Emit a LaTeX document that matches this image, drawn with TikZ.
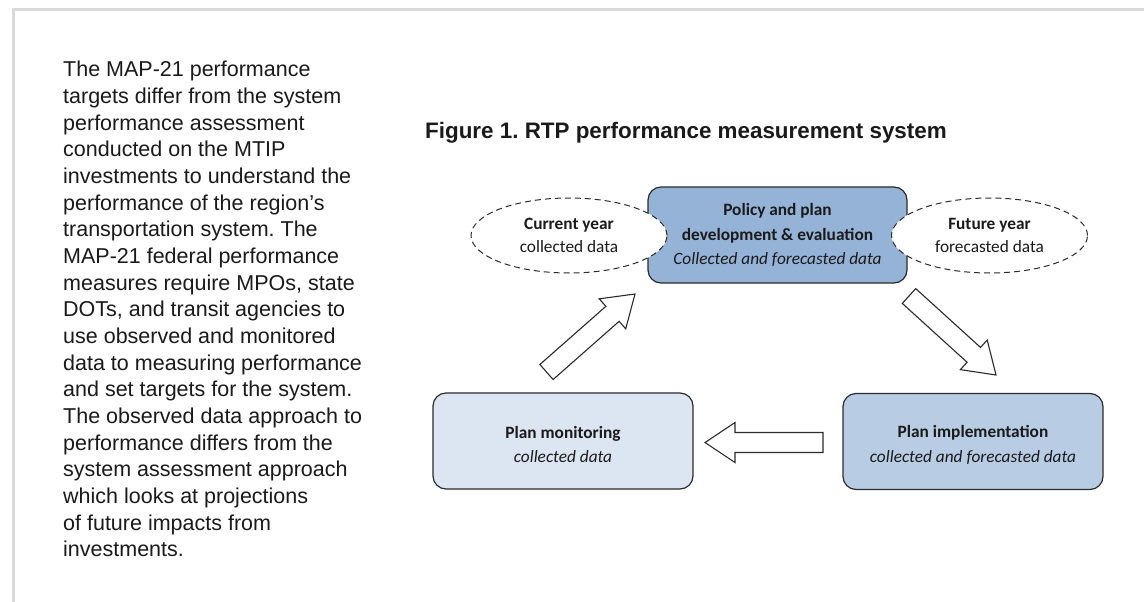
\documentclass[tikz,border=0pt]{standalone}
\usepackage{fontspec}
\setmainfont{Liberation Sans}
\newfontfamily\calib{Carlito}
\usetikzlibrary{shapes.geometric,calc}
\frenchspacing
\definecolor{framegray}{HTML}{DADADA}
\definecolor{boxtop}{HTML}{95B3D7}
\definecolor{boxmid}{HTML}{B8CCE4}
\definecolor{boxlight}{HTML}{DCE6F2}
\definecolor{ink}{HTML}{1A1A1A}
\definecolor{edge}{HTML}{2B2B2B}
\tikzset{
  stagebox/.style={draw=edge, line width=1.2pt, rounded corners=13pt, minimum width=260pt, minimum height=96pt, inner sep=0pt, align=center, text=ink, font=\calib\fontsize{17.3}{24.5}\selectfont},
  yearoval/.style={ellipse, draw=edge, dash pattern=on 6pt off 4pt, line width=1pt, fill=white, minimum width=196pt, minimum height=75pt, inner sep=0pt, align=center, text=ink, font=\calib\fontsize{17.3}{23}\selectfont},
  blockarrow/.style={draw=edge, line width=1.1pt, fill=white, line join=miter},
}
\newcommand{\drawblockarrow}[2]{%
  \coordinate (hb) at ($(#2)!30pt!(#1)$);
  \draw[blockarrow] ($(#1)!10pt!90:(#2)$) -- ($(hb)!10pt!90:(#2)$) -- ($(hb)!20pt!90:(#2)$) -- (#2) -- ($(hb)!20pt!-90:(#2)$) -- ($(hb)!10pt!-90:(#2)$) -- ($(#1)!10pt!-90:(#2)$) -- cycle;}
\begin{document}
\begin{tikzpicture}[x=1pt,y=-1pt]
\fill[white] (0,0) rectangle (1144,602);
\useasboundingbox (0,0) rectangle (1144,602);
\draw[framegray, line width=2.7pt] (13.3,602) -- (13.3,9.3) -- (1144,9.3);

\node[anchor=north west, inner sep=0pt, align=left, text=ink, font=\frenchspacing\fontsize{21.5}{26.67}\selectfont] (blurb) at (63,60.9) {The MAP-21 performance\\targets differ from the system\\performance assessment\\conducted on the MTIP\\investments to understand the\\performance of the region’s\\transportation system. The\\MAP-21 federal performance\\measures require MPOs, state\\DOTs, and transit agencies to\\use observed and monitored\\data to measuring performance\\and set targets for the system.\\The observed data approach to\\performance differs from the\\system assessment approach\\which looks at projections\\of future impacts from\\investments.};

\node[anchor=base west, inner sep=0pt, text=ink, font=\frenchspacing\bfseries\fontsize{22.4}{26}\selectfont] (title) at (425,138.3) {Figure 1. RTP performance measurement system};

\node[stagebox, fill=boxtop, minimum width=259pt] (policy) at (777.5,235) {\textbf{Policy and plan}\\\textbf{development \& evaluation}\\\textit{Collected and forecasted data}};
\node[stagebox, fill=boxlight] (monitor) at (563,441) {\rule{0pt}{19.5pt}\textbf{Plan monitoring}\\\textit{collected data}};
\node[stagebox, fill=boxmid] (implement) at (973,441.5) {\rule{0pt}{19.5pt}\textbf{Plan implementation}\\\textit{collected and forecasted data}};

\node[yearoval] (current) at (569,235.5) {\textbf{Current year}\\collected data};
\node[yearoval] (future) at (989.5,235.5) {\textbf{Future year}\\forecasted data};

\coordinate (upTail) at (546.5,372);
\coordinate (upTip) at (635,294);
\coordinate (downTail) at (909,296);
\coordinate (downTip) at (996,375);
\coordinate (leftTail) at (823,442.5);
\coordinate (leftTip) at (705,442.5);
\drawblockarrow{upTail}{upTip}
\drawblockarrow{downTail}{downTip}
\drawblockarrow{leftTail}{leftTip}
\end{tikzpicture}
\end{document}
